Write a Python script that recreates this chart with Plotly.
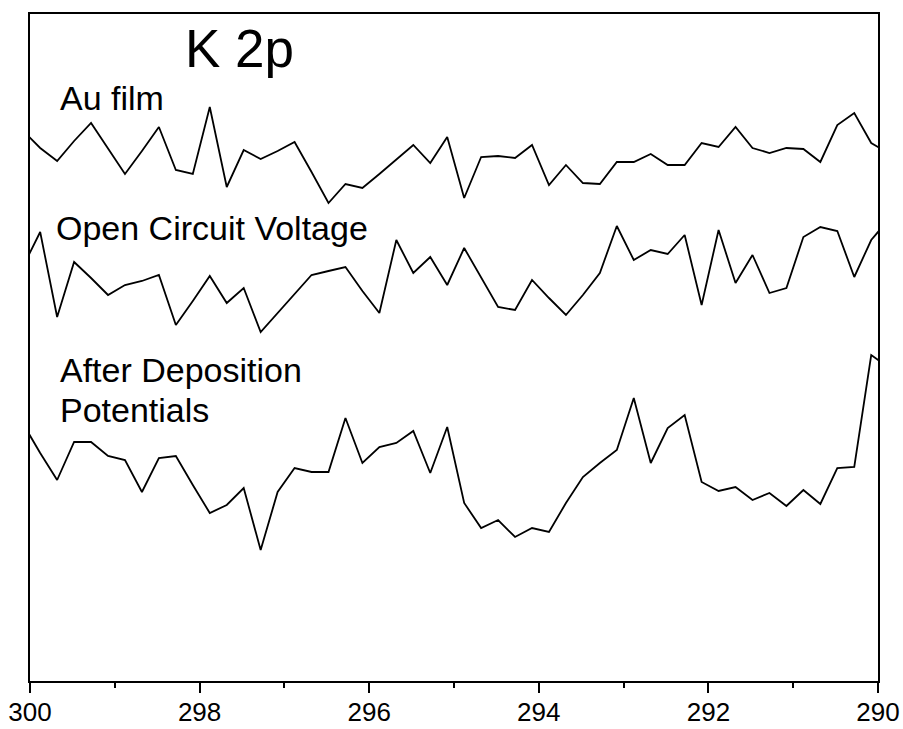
import plotly.graph_objects as go

# Binding energy grid (eV), 0.2 eV steps, slightly past the displayed window on both ends
binding_energy = [round(300.08 - 0.2 * k, 2) for k in range(52)]

# K 2p region intensities (a.u., vertically offset per condition)
au_film = [550, 533, 520, 540, 558, 532, 507, 530, 554, 511,
           507, 574, 494, 531, 522, 530, 539, 509, 478, 497,
           493, 507, 522, 536, 518, 544, 483, 524, 525, 523,
           536, 496, 516, 498, 497, 519, 519, 527, 516, 516,
           538, 534, 554, 533, 528, 533, 532, 519, 556, 568,
           538, 528]

open_circuit = [415, 449, 364, 419, 403, 386, 396, 400, 406, 356,
                380, 405, 378, 393, 349, 368, 387, 406, 410, 414,
                390, 368, 441, 408, 424, 396, 433, 404, 374, 371,
                401, 383, 366, 386, 408, 455, 421, 431, 427, 446,
                376, 451, 398, 426, 388, 393, 444, 454, 450, 404,
                441, 461]

after_deposition = [257, 228, 201, 239, 239, 225, 221, 189, 223, 225,
                    196, 168, 176, 193, 131, 189, 213, 209, 209, 263,
                    218, 234, 238, 250, 208, 254, 178, 153, 161, 144,
                    153, 149, 178, 204, 218, 231, 283, 218, 253, 266,
                    199, 190, 194, 181, 188, 175, 191, 177, 213, 214,
                    326, 314]

x_ticks = [300, 298, 296, 294, 292, 290]

fig = go.Figure()
for series in (au_film, open_circuit, after_deposition):
    fig.add_trace(go.Scatter(
        x=binding_energy, y=series, mode="lines",
        line=dict(color="black", width=1.8),
        showlegend=False, hoverinfo="skip",
    ))

label_font = dict(family="Liberation Sans, Arial, sans-serif", color="black")

# (text, x, y, size) for each in-plot label
labels = [
    ("K 2p", 298.20, 633, 53),
    ("Au film", 299.67, 583, 34),
    ("Open Circuit Voltage", 299.72, 453, 34),
    ("After Deposition", 299.67, 311, 34),
    ("Potentials", 299.67, 271, 34),
]
for text, lx, ly, size in labels:
    fig.add_annotation(x=lx, y=ly, xref="x", yref="y", text=text,
                       showarrow=False, xanchor="left", yanchor="middle",
                       font=dict(size=size, **label_font))

fig.update_xaxes(
    range=[300, 290], tickvals=x_ticks, ticktext=[str(v) for v in x_ticks],
    ticks="outside", ticklen=10, tickwidth=2, tickcolor="black",
    minor=dict(dtick=1, tick0=0, ticks="outside", ticklen=5, tickwidth=2, tickcolor="black"),
    showline=True, linewidth=2, linecolor="black", mirror=True,
    showgrid=False, zeroline=False, automargin=False,
    ticklabelstandoff=-3,
    tickfont=dict(size=26, family="Liberation Sans, Arial, sans-serif", color="black"),
)
fig.update_yaxes(
    range=[0, 667], showticklabels=False, ticks="",
    showline=True, linewidth=2, linecolor="black", mirror=True,
    showgrid=False, zeroline=False, automargin=False,
)

fig.update_layout(
    width=903, height=729,
    margin=dict(l=30, r=25, t=14, b=48),
    paper_bgcolor="white", plot_bgcolor="white",
)

fig.write_html("out.html")
